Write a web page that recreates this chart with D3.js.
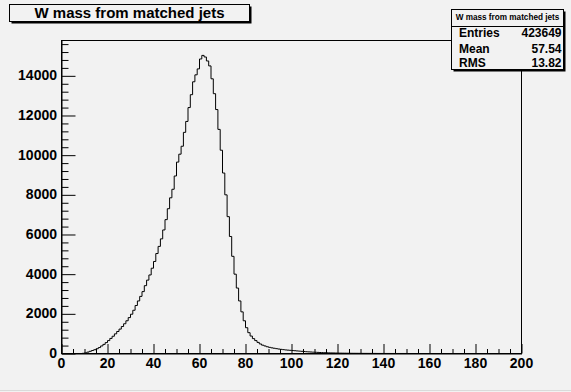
<!DOCTYPE html>
<html>
<head>
<meta charset="utf-8">
<script src="https://cdn.jsdelivr.net/npm/d3@7"></script>
<style>
  body { margin: 0; background: #f2f2f2; }
  svg { display: block; font-family: "Liberation Sans", Arial, Helvetica, sans-serif; font-weight: bold; }
</style>
</head>
<body>
<svg id="chart" width="571" height="392"></svg>
<script>
// bin contents, 1 GeV bins from 0 to 200
var counts = [
    0, 0, 0, 0, 0, 0, 0, 0, 0, 10,
    30, 70, 110, 150, 190, 240, 300, 380, 460, 550,
    650, 760, 870, 990, 1110, 1230, 1360, 1500, 1650, 1810,
    1980, 2180, 2420, 2650, 2880, 3120, 3420, 3700, 3960, 4300,
    4640, 5040, 5400, 5780, 6230, 6750, 7300, 7850, 8280, 8950,
    9650, 10050, 10450, 11150, 11700, 12400, 13050, 13700, 14050, 14350,
    14850, 15030, 14950, 14750, 14500, 13850, 13100, 12300, 11300, 10250,
    9100, 8000, 6900, 5900, 4900, 4000, 3300, 2650, 2100, 1650,
    1300, 1050, 880, 750, 650, 560, 480, 420, 380, 340,
    310, 285, 265, 245, 225, 210, 195, 180, 170, 160,
    150, 140, 130, 120, 110, 100, 90, 82, 75, 68,
    62, 56, 50, 45, 40, 36, 32, 29, 26, 23,
    20, 18, 16, 15, 13, 12, 11, 10, 9, 8,
    7, 6, 6, 5, 5, 4, 4, 3, 3, 3,
    2, 2, 2, 1, 1, 1, 1, 1, 1, 1,
    0, 0, 0, 0, 0, 0, 0, 0, 0, 0,
    0, 0, 0, 0, 0, 0, 0, 0, 0, 0,
    0, 0, 0, 0, 0, 0, 0, 0, 0, 0,
    0, 0, 0, 0, 0, 0, 0, 0, 0, 0,
    0, 0, 0, 0, 0, 0, 0, 0, 0, 0
];
var xTicks = [0, 20, 40, 60, 80, 100, 120, 140, 160, 180, 200];
var yTicks = [0, 2000, 4000, 6000, 8000, 10000, 12000, 14000];
var title = 'W mass from matched jets';
var statLabels = ['Entries', 'Mean', 'RMS'];
var statValues = ['423649', '57.54', '13.82'];

var svg = d3.select('#chart');
var bg = '#f2f2f2';

var frame = { left: 61.5, right: 521.5, top: 40.5, bottom: 353.5 };

var x = d3.scaleLinear().domain([0, 200]).range([frame.left, frame.right]);
var y = d3.scaleLinear().domain([0, d3.max(counts) * 1.05]).range([frame.bottom, frame.top]);

svg.append('rect').attr('width', 571).attr('height', 392).attr('fill', bg);
svg.append('line').attr('x1', 0).attr('x2', 571).attr('y1', 390.5).attr('y2', 390.5)
    .attr('stroke', '#dadada');

// frame
svg.append('rect')
    .attr('x', frame.left).attr('y', frame.top)
    .attr('width', frame.right - frame.left).attr('height', frame.bottom - frame.top)
    .attr('fill', bg).attr('stroke', '#000').attr('stroke-width', 1);

// histogram outline
var pts = counts.map(function (c, i) { return [i, c]; });
pts.push([counts.length, counts[counts.length - 1]]);

var step = d3.line()
    .x(function (d) { return x(d[0]); })
    .y(function (d) { return y(d[1]); })
    .curve(d3.curveStepAfter);

svg.append('path')
    .datum(pts)
    .attr('d', step)
    .attr('fill', 'none')
    .attr('stroke', '#000')
    .attr('stroke-width', 1);

// axes, ROOT style: ticks pointing into the frame
var xAxis = d3.axisTop(x).tickValues(d3.range(0, 201, 5)).tickFormat('')
    .tickSize(4.5).tickSizeOuter(0);
var gx = svg.append('g').attr('transform', 'translate(0,' + frame.bottom + ')').call(xAxis);
gx.selectAll('.tick line')
    .attr('y2', function (d) { return d % 20 === 0 ? -9.5 : -4.5; });
gx.select('.domain').attr('stroke', '#000');

svg.append('g').selectAll('text')
    .data(xTicks)
    .enter().append('text')
    .attr('x', function (d) { return x(d); })
    .attr('y', 368)
    .attr('text-anchor', 'middle')
    .attr('font-size', 14)
    .text(function (d) { return d; });

var yMinor = d3.range(0, y.domain()[1], 400);
var yAxis = d3.axisRight(y).tickValues(yMinor).tickFormat('')
    .tickSize(7).tickSizeOuter(0);
var gy = svg.append('g').attr('transform', 'translate(' + frame.left + ',0)').call(yAxis);
gy.selectAll('.tick line')
    .attr('x2', function (d) { return d % 2000 === 0 ? 14 : 7; });
gy.select('.domain').attr('stroke', '#000');

svg.append('g').selectAll('text')
    .data(yTicks)
    .enter().append('text')
    .attr('x', 57)
    .attr('y', function (d) { return y(d) + 4.5; })
    .attr('text-anchor', 'end')
    .attr('font-size', 14)
    .text(function (d) { return d; });

// title box
function shadowBox(x0, y0, w, h) {
    svg.append('rect').attr('x', x0 + 2).attr('y', y0 + 2).attr('width', w).attr('height', h)
        .attr('fill', '#000');
    svg.append('rect').attr('x', x0).attr('y', y0).attr('width', w).attr('height', h)
        .attr('fill', bg).attr('stroke', '#000').attr('stroke-width', 1);
}

shadowBox(9.5, 4.5, 240, 17);
svg.append('text')
    .attr('x', 129.5).attr('y', 18.3)
    .attr('text-anchor', 'middle')
    .attr('font-size', 15)
    .text(title);

// stats box
shadowBox(451.5, 9.5, 112, 60);
svg.append('line').attr('x1', 451.5).attr('x2', 563.5).attr('y1', 26.5).attr('y2', 26.5)
    .attr('stroke', '#000');
svg.append('text')
    .attr('x', 507.5).attr('y', 20)
    .attr('text-anchor', 'middle')
    .attr('font-size', 8.2)
    .text(title);

var rowY = [36.7, 52.8, 66.6];
var rows = svg.append('g').selectAll('g')
    .data(statLabels)
    .enter().append('g');
rows.append('text')
    .attr('x', 459)
    .attr('y', function (d, i) { return rowY[i]; })
    .attr('font-size', 12)
    .text(function (d) { return d; });
rows.append('text')
    .attr('x', 561.5)
    .attr('y', function (d, i) { return rowY[i]; })
    .attr('text-anchor', 'end')
    .attr('font-size', 12)
    .text(function (d, i) { return statValues[i]; });
</script>
</body>
</html>
